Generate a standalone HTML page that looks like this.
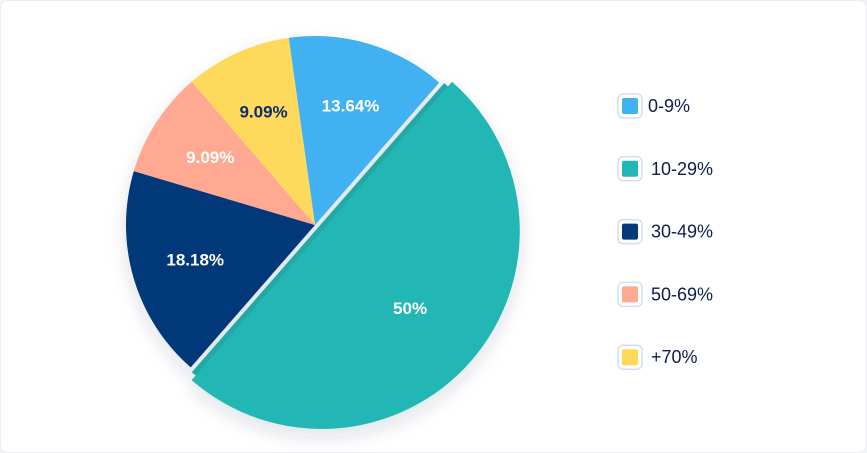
<!DOCTYPE html>
<html><head><meta charset="utf-8"><style>
body{margin:0;background:#f3f4f7;}
#card{position:absolute;left:0;top:0;width:865px;height:451px;background:#fff;border-radius:8px;border:1px solid #eceef2;}
svg{position:absolute;left:0;top:0}
</style></head><body>
<div id="card"></div>
<svg id="chart" width="867" height="453">
<defs><filter id="sh" x="-20%" y="-20%" width="140%" height="140%"><feDropShadow dx="0" dy="8" stdDeviation="9" flood-color="#1b2a5a" flood-opacity="0.13"/></filter></defs>
<g id="pie" filter="url(#sh)"></g><g id="labels"></g><g id="legend"></g>
</svg>
<script>
const categories=["0-9%","10-29%","30-49%","50-69%","+70%"];
const values=[13.64,50,18.18,9.09,9.09];
const valueLabels=["13.64%","50%","18.18%","9.09%","9.09%"];
const colors=["#42b1f1","#20b7b5","#06387a","#ffa992","#ffd95c"];
const labelColors=["#fff","#fff","#fff","#fff","#0b2c6e"];
const explodedIndex=1;
const NS="http://www.w3.org/2000/svg";
const cx=315,cy=225,R=189,startDeg=-8;
const total=values.reduce((a,b)=>a+b,0);
function pt(x,y,r,deg){const a=deg*Math.PI/180;return [x+r*Math.sin(a),y-r*Math.cos(a)];}
function arc(x,y,r,a0,a1){const p0=pt(x,y,r,a0),p1=pt(x,y,r,a1);const lg=(a1-a0)>180?1:0;
return `M${x},${y}L${p0[0]},${p0[1]}A${r},${r} 0 ${lg} 1 ${p1[0]},${p1[1]}Z`;}
const pie=document.getElementById('pie'),labels=document.getElementById('labels'),legend=document.getElementById('legend');
let a=startDeg;
values.forEach((v,i)=>{
  const sweep=v/total*360,a0=a,a1=a+sweep,mid=(a0+a1)/2;a=a1;
  let x=cx,y=cy,r=R;
  if(i===explodedIndex){
    const b=document.createElementNS(NS,'path');
    const o=pt(0,0,4,mid);
    b.setAttribute('d',arc(cx+o[0],cy+o[1],R+3,a0,a1));b.setAttribute('fill','#23a9a7');
    
    
    pie.appendChild(b);
    const o2=pt(0,0,9,mid);x=cx+o2[0];y=cy+o2[1];r=R+9;
  }
  const p=document.createElementNS(NS,'path');
  p.setAttribute('d',arc(x,y,r,a0,a1));p.setAttribute('fill',colors[i]);
  
  
  pie.appendChild(p);
  const lr=i===explodedIndex?R*0.62:R*0.66;
  const lp=pt(x,y,lr,mid);
  const t=document.createElementNS(NS,'text');
  t.setAttribute('x',lp[0]);t.setAttribute('y',lp[1]+6);t.setAttribute('text-anchor','middle');
  t.setAttribute('font-family','Liberation Sans, sans-serif');t.setAttribute('font-weight','bold');t.setAttribute('font-size','17');
  t.setAttribute('fill',labelColors[i]);t.textContent=valueLabels[i];
  
  
  labels.appendChild(t);
});
categories.forEach((c,i)=>{
  const yc=106+i*62.8;
  const g=document.createElementNS(NS,'g');
  
  
  const ring=document.createElementNS(NS,'rect');
  ring.setAttribute('x',618);ring.setAttribute('y',yc-12);ring.setAttribute('width',24);ring.setAttribute('height',24);ring.setAttribute('rx',5);
  ring.setAttribute('fill','#fff');ring.setAttribute('stroke','#d4def0');ring.setAttribute('stroke-width','1.5');
  
  
  const sw=document.createElementNS(NS,'rect');
  sw.setAttribute('x',622);sw.setAttribute('y',yc-8);sw.setAttribute('width',16);sw.setAttribute('height',16);sw.setAttribute('rx',2);sw.setAttribute('fill',colors[i]);
  
  
  const t=document.createElementNS(NS,'text');
  t.setAttribute('x',i===0?648:651);t.setAttribute('y',yc+6);t.setAttribute('font-family','Liberation Sans, sans-serif');t.setAttribute('font-size','18');t.setAttribute('fill','#0e1c4d');
  t.textContent=c;
  
  
  g.appendChild(ring);g.appendChild(sw);g.appendChild(t);legend.appendChild(g);
});
</script>
</body></html>
